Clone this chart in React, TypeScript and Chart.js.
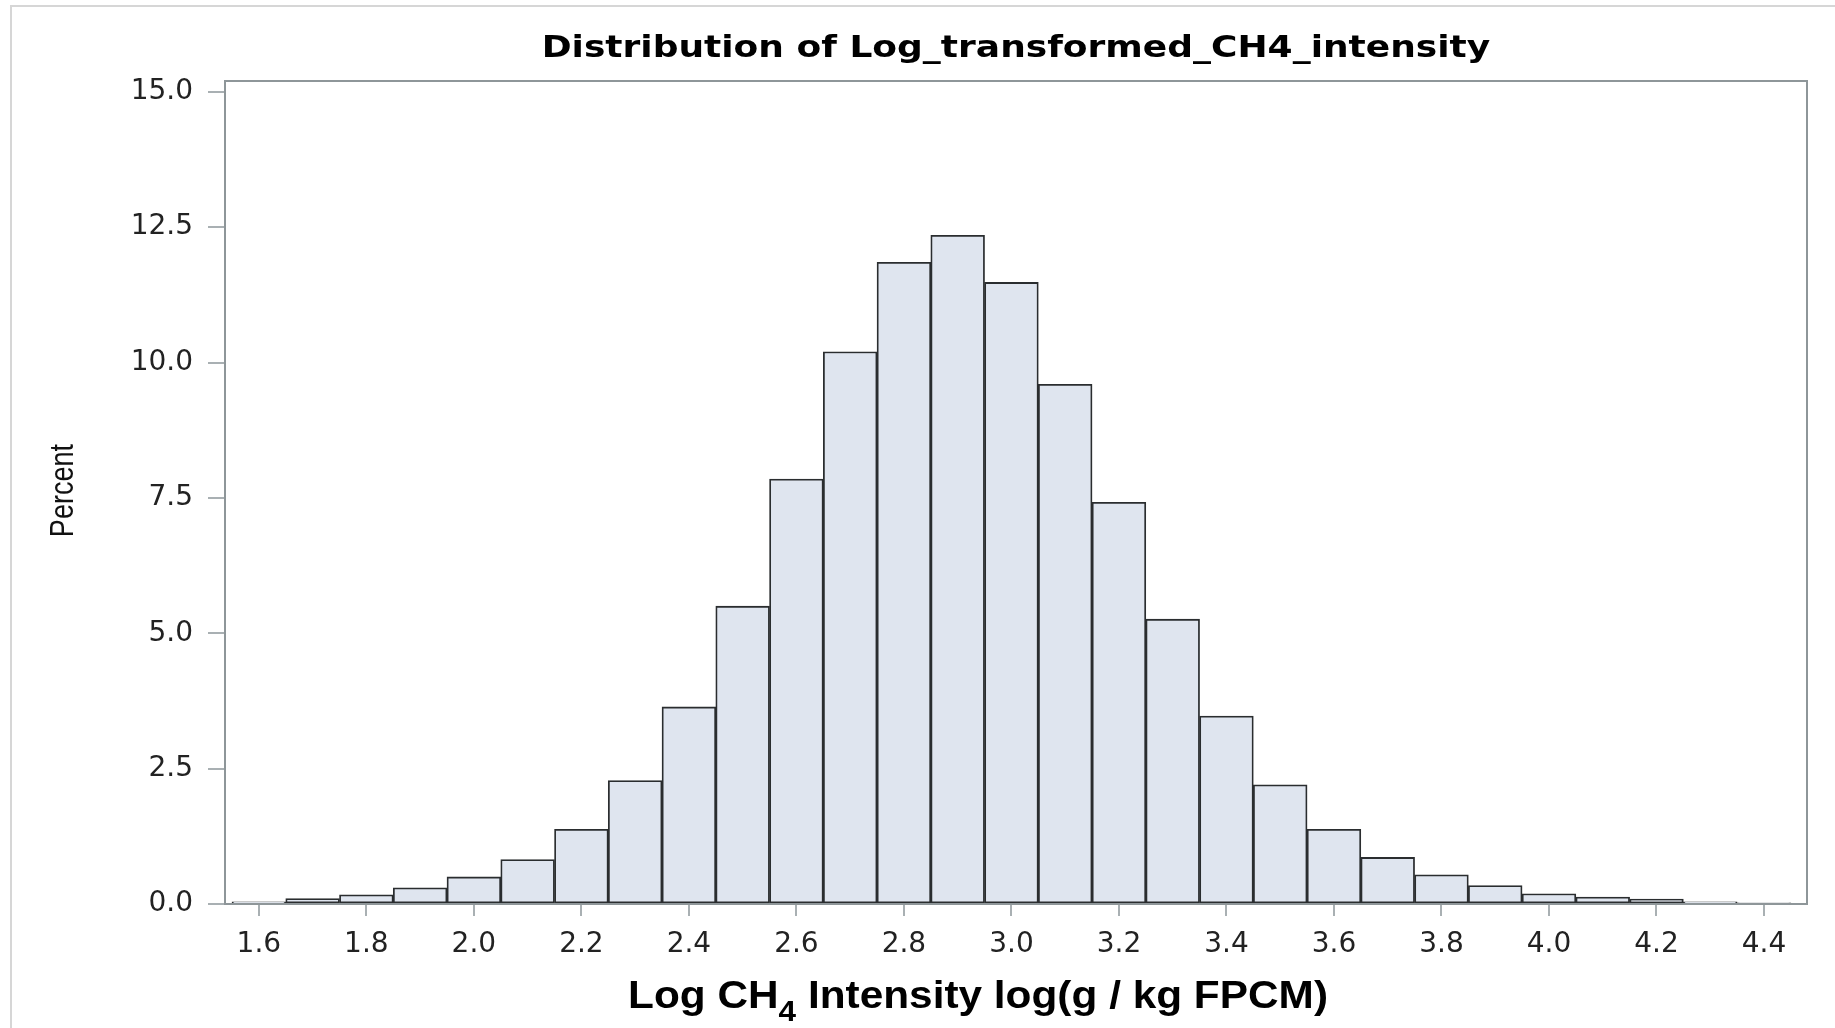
import React, { useEffect, useRef } from "react";
import { Chart, registerables } from "chart.js";

Chart.register(...registerables);

const BIN_CENTERS = [
  1.6, 1.7, 1.8, 1.9, 2.0, 2.1, 2.2, 2.3, 2.4, 2.5, 2.6, 2.7, 2.8, 2.9, 3.0,
  3.1, 3.2, 3.3, 3.4, 3.5, 3.6, 3.7, 3.8, 3.9, 4.0, 4.1, 4.2, 4.3, 4.4,
];
const PERCENT = [
  0.04, 0.1, 0.17, 0.3, 0.5, 0.82, 1.38, 2.28, 3.64, 5.5, 7.85, 10.2, 11.85,
  12.35, 11.48, 9.6, 7.42, 5.26, 3.47, 2.2, 1.38, 0.86, 0.54, 0.34, 0.19, 0.13,
  0.09, 0.04, 0.02,
];
const X_TICKS = [1.6, 1.8, 2.0, 2.2, 2.4, 2.6, 2.8, 3.0, 3.2, 3.4, 3.6, 3.8, 4.0, 4.2, 4.4];
const Y_TICKS = [0, 2.5, 5, 7.5, 10, 12.5, 15];

const TITLE = "Distribution of Log_transformed_CH4_intensity";
const Y_TITLE = "Percent";
const X_TITLE_PRE = "Log CH";
const X_TITLE_SUB = "4";
const X_TITLE_POST = " Intensity log(g / kg FPCM)";

const decorPlugin = {
  id: "decor",
  beforeDraw(chart: any) {
    const ctx = chart.ctx;
    ctx.save();
    ctx.fillStyle = "#ffffff";
    ctx.fillRect(0, 0, chart.width, chart.height);
    ctx.strokeStyle = "#d6d6d6";
    ctx.lineWidth = 2;
    ctx.beginPath();
    ctx.moveTo(11, chart.height);
    ctx.lineTo(11, 6);
    ctx.lineTo(chart.width, 6);
    ctx.stroke();
    ctx.restore();
  },
  afterDraw(chart: any) {
    const ctx = chart.ctx;
    const a = chart.chartArea;
    ctx.save();
    // plot frame
    ctx.strokeStyle = "#8e9699";
    ctx.lineWidth = 2;
    ctx.strokeRect(a.left, a.top, a.right - a.left, a.bottom - a.top);

    // title
    const cx = (a.left + a.right) / 2;
    ctx.fillStyle = "#000";
    ctx.font = 'bold 30px "DejaVu Sans"';
    ctx.textAlign = "center";
    ctx.textBaseline = "alphabetic";
    ctx.save();
    ctx.translate(cx, a.top - 24);
    ctx.scale(1.2, 1);
    ctx.fillText(TITLE, 0, 0);
    ctx.restore();

    // y title
    ctx.save();
    ctx.font = '33px "Liberation Sans"';
    ctx.fillStyle = "#111";
    ctx.translate(a.left - 152, (a.top + a.bottom) / 2 - 2);
    ctx.rotate(-Math.PI / 2);
    ctx.scale(0.82, 1);
    ctx.textAlign = "center";
    ctx.fillText(Y_TITLE, 0, 0);
    ctx.restore();

    // x title with subscript
    ctx.save();
    const mainFont = 'bold 39px "Liberation Sans"';
    const subFont = 'bold 29px "Liberation Sans"';
    ctx.font = mainFont;
    const w1 = ctx.measureText(X_TITLE_PRE).width;
    const w3 = ctx.measureText(X_TITLE_POST).width;
    ctx.font = subFont;
    const w2 = ctx.measureText(X_TITLE_SUB).width;
    const total = w1 + w2 + w3;
    const targetW = 700;
    const sx = targetW / total;
    const xc = cx - 38;
    const base = a.bottom + 104;
    ctx.translate(xc - targetW / 2, base);
    ctx.scale(sx, 1);
    ctx.textAlign = "left";
    ctx.fillStyle = "#000";
    ctx.font = mainFont;
    ctx.fillText(X_TITLE_PRE, 0, 0);
    ctx.font = subFont;
    ctx.fillText(X_TITLE_SUB, w1, 13);
    ctx.font = mainFont;
    ctx.fillText(X_TITLE_POST, w1 + w2, 0);
    ctx.restore();

    ctx.restore();
  },
};

export default function App() {
  const ref = useRef<HTMLCanvasElement | null>(null);

  useEffect(() => {
    if (!ref.current) return;
    const chart = new Chart(ref.current, {
      type: "bar",
      data: {
        datasets: [
          {
            data: BIN_CENTERS.map((x, i) => ({ x, y: PERCENT[i] })),
            backgroundColor: "#dfe5ef",
            borderColor: "#2a2d2f",
            borderWidth: 1.8,
            borderSkipped: false,
            barPercentage: 1,
            categoryPercentage: 1,
          },
        ],
      },
      options: {
        animation: false,
        responsive: true,
        maintainAspectRatio: false,
        layout: { padding: { top: 81, right: 28, left: 0, bottom: 0 } },
        plugins: {
          legend: { display: false },
          tooltip: { enabled: false },
          title: { display: false },
        },
        scales: {
          x: {
            type: "linear",
            min: 1.537,
            max: 4.48,
            offset: false,
            afterBuildTicks: (scale: any) => {
              scale.ticks = X_TICKS.map((v) => ({ value: v }));
            },
            afterFit: (scale: any) => {
              scale.height = 124;
            },
            ticks: {
              autoSkip: false,
              maxRotation: 0,
              padding: 12,
              color: "#222",
              font: { family: '"DejaVu Sans"', size: 28 },
              callback: (v: any) => Number(v).toFixed(1),
            },
            grid: {
              offset: false,
              drawOnChartArea: false,
              drawTicks: true,
              tickLength: 12,
              color: "#a9b0b3",
              lineWidth: 2,
            },
            border: { display: false },
          },
          y: {
            type: "linear",
            min: 0,
            max: 15.2,
            afterBuildTicks: (scale: any) => {
              scale.ticks = Y_TICKS.map((v) => ({ value: v }));
            },
            afterFit: (scale: any) => {
              scale.width = 225;
            },
            ticks: {
              padding: 15,
              color: "#222",
              font: { family: '"DejaVu Sans"', size: 28 },
              callback: (v: any) => Number(v).toFixed(1),
            },
            grid: {
              offset: false,
              drawOnChartArea: false,
              drawTicks: true,
              tickLength: 17,
              color: "#a9b0b3",
              lineWidth: 2,
            },
            border: { display: false },
          },
        },
      },
      plugins: [decorPlugin],
    } as any);
    return () => chart.destroy();
  }, []);

  return (
    <div style={{ position: "absolute", left: 0, top: 0, width: 1835, height: 1028, background: "#fff" }}>
      <canvas ref={ref} />
    </div>
  );
}
